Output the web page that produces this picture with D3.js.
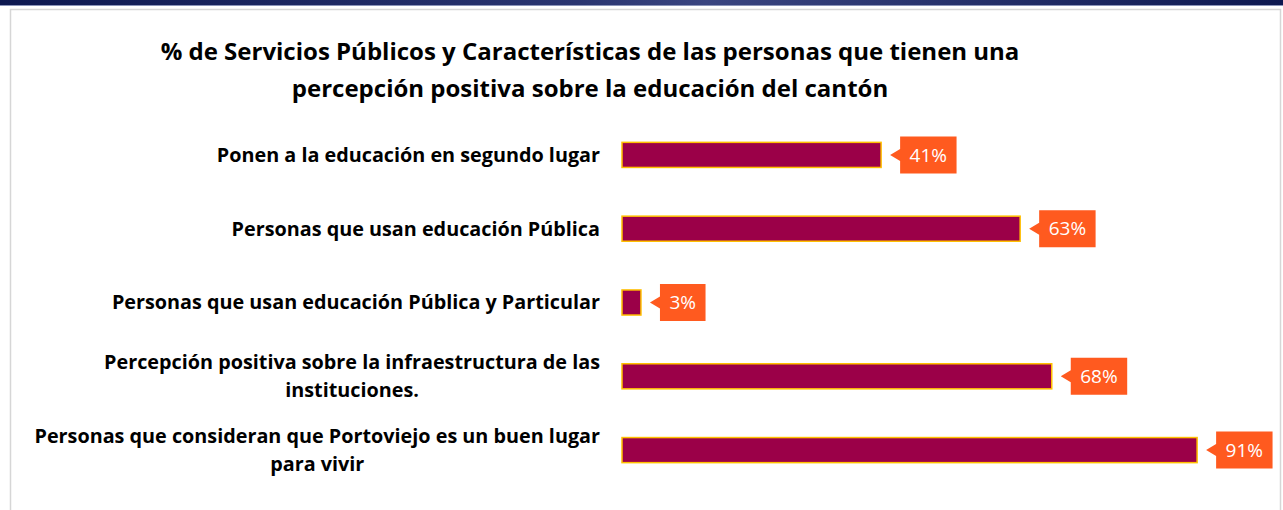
<!DOCTYPE html>
<html>
<head>
<meta charset="utf-8">
<script src="https://cdn.jsdelivr.net/npm/d3@7.9.0/dist/d3.min.js"></script>
<style>
  html, body { margin: 0; padding: 0; background: #fff; }
  svg { display: block; font-family: "Open Sans", Lato, sans-serif; }
</style>
</head>
<body>
<div id="chart"></div>
<script>
// ---------------------------------------------------------
// Data
// ---------------------------------------------------------
const titleLines = [
  "% de Servicios Públicos y Características de las personas que tienen una",
  "percepción positiva sobre la educación del cantón"
];

const categories = [
  ["Ponen a la educación en segundo lugar"],
  ["Personas que usan educación Pública"],
  ["Personas que usan educación Pública y Particular"],
  ["Percepción positiva sobre la infraestructura de las", "instituciones."],
  ["Personas que consideran que Portoviejo es un buen lugar", "para vivir"]
];

const values = [41, 63, 3, 68, 91];

// ---------------------------------------------------------
// Layout
// ---------------------------------------------------------
const width = 1283;
const height = 510;
const plot = { left: 622, right: 1254, top: 118, bottom: 487 };

const svg = d3.select("#chart")
  .append("svg")
  .attr("width", width)
  .attr("height", height);

// top navy band
const defs = svg.append("defs");
const grad = defs.append("linearGradient").attr("id", "band");
grad.append("stop").attr("offset", "0%").attr("stop-color", "#0d1850");
grad.append("stop").attr("offset", "45%").attr("stop-color", "#2a3570");
grad.append("stop").attr("offset", "55%").attr("stop-color", "#3a4580");
grad.append("stop").attr("offset", "100%").attr("stop-color", "#0d1850");

svg.append("rect")
  .attr("x", 0).attr("y", 0)
  .attr("width", width).attr("height", 5)
  .attr("fill", "url(#band)");
svg.append("rect")
  .attr("x", 0).attr("y", 5)
  .attr("width", width).attr("height", 1)
  .attr("fill", "#8a93b8");

// chart frame
svg.append("rect")
  .attr("x", 10.5).attr("y", 9.5)
  .attr("width", 1270).attr("height", 520)
  .attr("fill", "none")
  .attr("stroke", "#d6d6d6")
  .attr("stroke-width", 1.5);

// title
svg.append("text")
  .attr("text-anchor", "middle")
  .attr("font-size", 24)
  .attr("font-weight", "bold")
  .attr("fill", "#000")
  .selectAll("tspan")
  .data(titleLines)
  .join("tspan")
  .attr("x", 590)
  .attr("y", (d, i) => 60 + i * 37)
  .text(d => d);

// ---------------------------------------------------------
// Scales
// ---------------------------------------------------------
const xScale = d3.scaleLinear()
  .domain([0, 100])
  .range([plot.left, plot.right]);

const yScale = d3.scaleBand()
  .domain(d3.range(values.length))
  .range([plot.top, plot.bottom])
  .paddingInner(0.66)
  .paddingOuter(0.33);

// ---------------------------------------------------------
// Category labels
// ---------------------------------------------------------
const labelRight = 600;
const lineGap = 28;

const labels = svg.append("g")
  .attr("font-size", 19.8)
  .attr("font-weight", "bold")
  .attr("fill", "#000");

labels.selectAll("g")
  .data(categories)
  .join("g")
  .each(function (lines, i) {
    const g = d3.select(this);
    const cy = yScale(i) + yScale.bandwidth() / 2;
    const texts = g.selectAll("text")
      .data(lines)
      .join("text")
      .attr("dy", "0.35em")
      .attr("y", (d, j) => cy + (j - (lines.length - 1) / 2) * lineGap)
      .text(d => d);
    // block right-aligned, lines centred within block
    const widths = texts.nodes().map(n => n.getComputedTextLength());
    const blockW = d3.max(widths);
    texts.attr("text-anchor", "middle")
      .attr("x", labelRight - blockW / 2);
  });

// ---------------------------------------------------------
// Bars
// ---------------------------------------------------------
svg.append("g")
  .selectAll("rect")
  .data(values)
  .join("rect")
  .attr("x", xScale(0))
  .attr("y", (d, i) => yScale(i))
  .attr("width", d => xScale(d) - xScale(0))
  .attr("height", yScale.bandwidth())
  .attr("fill", "#9b0048")
  .attr("stroke", "#ffc000")
  .attr("stroke-width", 1.5);

// ---------------------------------------------------------
// Value callouts
// ---------------------------------------------------------
const callouts = svg.append("g")
  .selectAll("g")
  .data(values)
  .join("g")
  .attr("transform", (d, i) =>
    `translate(${xScale(d)},${yScale(i) + yScale.bandwidth() / 2})`);

callouts.each(function (d) {
  const g = d3.select(this);
  const txt = g.append("text")
    .attr("font-size", 19)
    .attr("fill", "#fff")
    .attr("dy", "0.35em")
    .attr("text-anchor", "middle")
    .text(d + "%");
  const tw = txt.node().getComputedTextLength();
  const boxX = 19, boxW = tw + 19, boxH = 37;
  g.insert("path", "text")
    .attr("d", `M${boxX},${-boxH / 2} H${boxX + boxW} V${boxH / 2} H${boxX}
      V6 L9,0 L${boxX},-6 Z`)
    .attr("fill", "#ff5a1f");
  txt.attr("x", boxX + boxW / 2);
});
</script>
</body>
</html>
